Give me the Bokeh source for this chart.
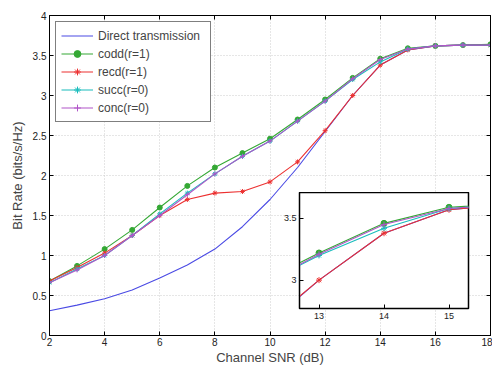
from bokeh.plotting import figure
from bokeh.models import Range1d, LinearAxis, FixedTicker, Legend, LegendItem
from bokeh.layouts import column
from bokeh.embed import file_html
from bokeh.resources import INLINE

snr = [2, 3, 4, 5, 6, 7, 8, 9, 10, 11, 12, 13, 14, 15, 16, 17, 18]
direct = [0.31, 0.38, 0.46, 0.57, 0.72, 0.88, 1.08, 1.36, 1.70, 2.10, 2.55, 3.00, 3.38, 3.57, 3.62, 3.63, 3.63]
codd = [0.68, 0.87, 1.08, 1.32, 1.60, 1.87, 2.10, 2.28, 2.46, 2.70, 2.95, 3.22, 3.46, 3.59, 3.62, 3.63, 3.64]
recd = [0.68, 0.85, 1.03, 1.25, 1.50, 1.70, 1.78, 1.80, 1.92, 2.17, 2.56, 3.00, 3.38, 3.57, 3.62, 3.63, 3.63]
succ = [0.66, 0.83, 1.00, 1.25, 1.52, 1.78, 2.02, 2.24, 2.43, 2.68, 2.93, 3.20, 3.42, 3.58, 3.62, 3.63, 3.63]
conc = [0.66, 0.82, 1.00, 1.25, 1.50, 1.76, 2.02, 2.24, 2.43, 2.68, 2.93, 3.21, 3.45, 3.58, 3.62, 3.63, 3.63]

labels = ["Direct transmission", "codd(r=1)", "recd(r=1)", "succ(r=0)", "conc(r=0)"]
x_ticks = [2, 4, 6, 8, 10, 12, 14, 16, 18]
y_ticks = [0, 0.5, 1, 1.5, 2, 2.5, 3, 3.5, 4]
inset_x_ticks = [13, 14, 15]
inset_y_ticks = [3, 3.5]

colors = ["#4a4ae4", "#34a834", "#ec3030", "#18bcbc", "#b055c8"]
markers = [None, "circle", "asterisk", "asterisk", "cross"]
series = [direct, codd, recd, succ, conc]

FONT = "Liberation Sans"

def style_axes(fig, xt, yt, fs):
    for ax in fig.xaxis + fig.yaxis:
        ax.major_tick_in = 4
        ax.major_tick_out = 0
        ax.minor_tick_in = 0
        ax.minor_tick_out = 0
        ax.axis_line_color = "black"
        ax.major_tick_line_color = "black"
        ax.major_label_text_font = FONT
        ax.major_label_text_font_size = fs
        ax.major_label_text_color = "#222222"
        ax.major_label_standoff = 3
    for ax in fig.xaxis:
        ax.ticker = FixedTicker(ticks=xt)
    for ax in fig.yaxis:
        ax.ticker = FixedTicker(ticks=yt)

p = figure(width=492, height=367, x_range=Range1d(2, 18), y_range=Range1d(0, 4),
           output_backend="svg", toolbar_location=None,
           min_border_left=49, min_border_right=2, min_border_top=15, min_border_bottom=30)
p.outline_line_color = "black"
p.background_fill_color = "white"
p.xaxis.axis_label = "Channel SNR (dB)"
p.yaxis.axis_label = "Bit Rate (bits/s/Hz)"
for ax in p.xaxis + p.yaxis:
    ax.axis_label_text_font = FONT
    ax.axis_label_text_font_size = "13px"
    ax.axis_label_text_font_style = "normal"
ax_r = LinearAxis()
ax_t = LinearAxis()
p.add_layout(ax_r, "right")
p.add_layout(ax_t, "above")
style_axes(p, x_ticks, y_ticks, "10px")
p.xaxis.axis_label_standoff = 1
p.yaxis.axis_label_standoff = 5
p.below[0].major_label_standoff = 2
ax_r.major_label_overrides = {t: "" for t in y_ticks}
ax_t.major_label_overrides = {t: "" for t in x_ticks}
ax_r.major_label_standoff = 0
ax_t.major_label_standoff = 0
p.xgrid.ticker = FixedTicker(ticks=x_ticks)
p.ygrid.ticker = FixedTicker(ticks=y_ticks)
p.grid.grid_line_color = "#cccccc"
p.grid.grid_line_dash = "1 2"

items = []
for lab, ys, c, m in zip(labels, series, colors, markers):
    rs = [p.line(snr, ys, line_color=c, line_width=1.1)]
    if m:
        rs.append(p.scatter(snr, ys, marker=m, size=5, line_color=c, fill_color=c, line_width=1))
    items.append(LegendItem(label=lab, renderers=rs))

leg = Legend(items=items, location="top_left")
leg.label_text_font = FONT
leg.label_text_font_size = "12px"
leg.label_height = 17
leg.glyph_height = 17
leg.glyph_width = 32
leg.label_width = 107
leg.label_standoff = 5
leg.spacing = 1
leg.padding = 5
leg.margin = 6
leg.border_line_color = "black"
leg.border_line_width = 1
leg.background_fill_alpha = 1
p.add_layout(leg)

# inset
q = figure(width=220, height=141, x_range=Range1d(12.7, 15.3), y_range=Range1d(2.77, 3.71),
           output_backend="svg", toolbar_location=None,
           min_border_left=49, min_border_right=2, min_border_top=0, min_border_bottom=25,
           margin=(-175, 0, 0, 250))
q.outline_line_color = "black"
q.outline_line_width = 1.5
q.border_fill_alpha = 0
q.background_fill_color = "white"
q.grid.visible = False
style_axes(q, inset_x_ticks, inset_y_ticks, "9px")
q.xaxis.major_label_standoff = 4
for ys, c, m in zip(series, colors, markers):
    q.line(snr, ys, line_color=c, line_width=1.1)
    if m:
        q.scatter(snr, ys, marker=m, size=6, line_color=c, fill_color=c, line_width=1)

layout = column(p, q, spacing=0)
open("out.html", "w").write(file_html(layout, INLINE))
